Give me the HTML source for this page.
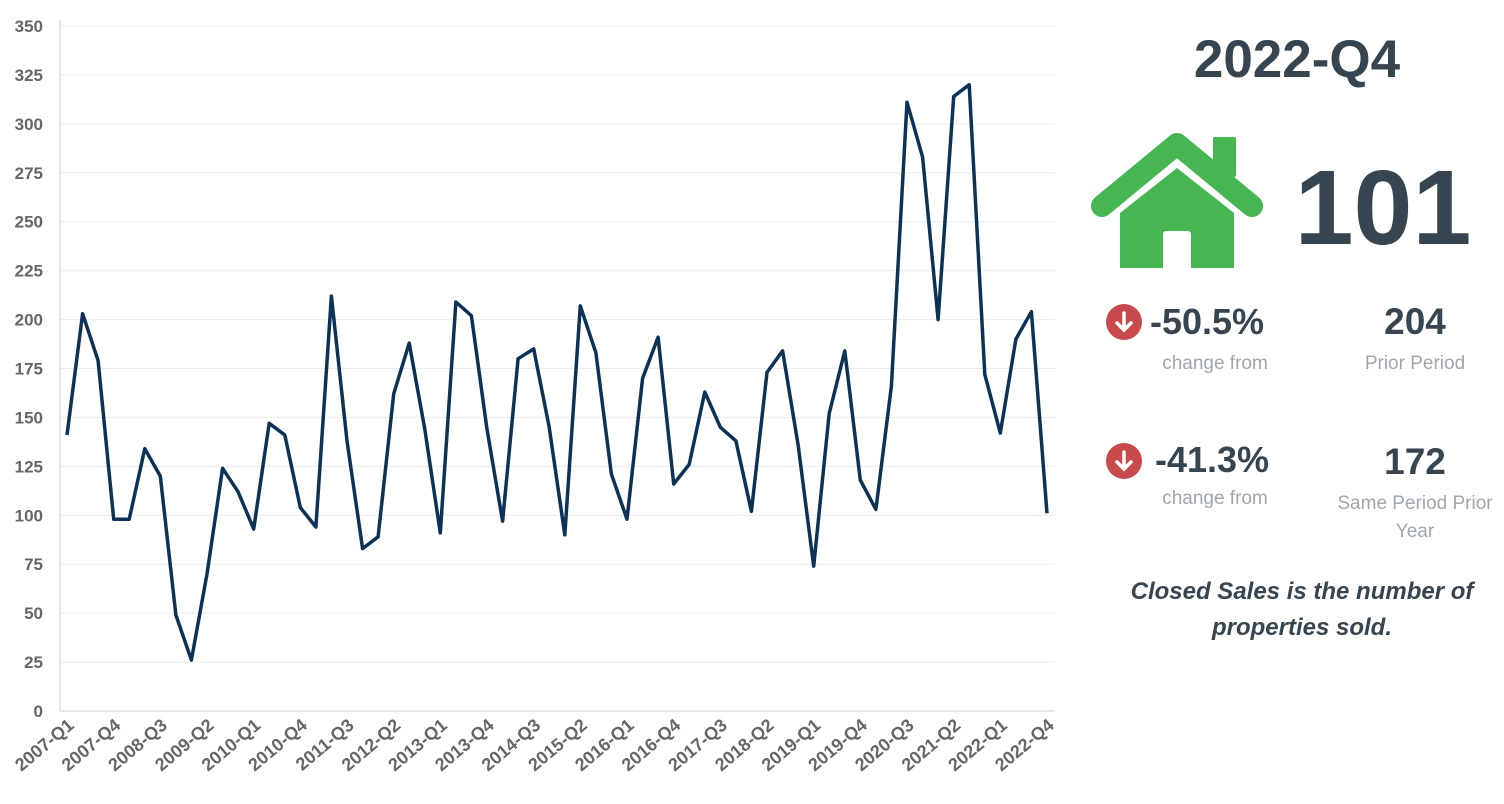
<!DOCTYPE html>
<html><head><meta charset="utf-8"><style>
body{margin:0;background:#fff;width:1504px;height:804px;overflow:hidden;font-family:"Liberation Sans",sans-serif;}
svg{position:absolute;left:0;top:0}
</style></head><body>
<svg width="1504" height="804">
<g id="grid"></g>
<g id="ylab"></g>
<g id="xlab"></g>
<line x1="60" y1="20" x2="60" y2="711" stroke="#ccc"/>
<path id="line" fill="none" stroke="#0d3257" stroke-width="3.5" stroke-linejoin="round"/>

<text x="1297" y="77" text-anchor="middle" font-size="53" font-weight="bold" fill="#36454f">2022-Q4</text>
<g>
<polyline points="1102,206 1177,144 1252,206" fill="none" stroke="#46b653" stroke-width="22" stroke-linecap="round" stroke-linejoin="round"/>
<rect x="1213" y="137" width="23" height="40" rx="2" fill="#46b653"/>
<polygon points="1120,213 1177,168 1234,213 1234,268 1120,268" fill="#46b653"/>
<rect x="1163" y="231" width="28" height="40" rx="3" fill="#fff"/>
</g>
<text x="1383" y="244" text-anchor="middle" font-size="106" font-weight="bold" fill="#36454f">101</text>

<g><circle cx="1124" cy="322" r="18" fill="#c94a4c"/><path d="M1124,313 v16 M1117,323 l7,7 l7,-7" stroke="#fff" stroke-width="3.5" fill="none" stroke-linecap="round"/></g>
<text x="1150" y="334" font-size="36" font-weight="bold" fill="#36454f">-50.5%</text>
<text x="1215" y="369" text-anchor="middle" font-size="19" fill="#a0a6ad">change from</text>
<text x="1415" y="334" text-anchor="middle" font-size="37" font-weight="bold" fill="#36454f">204</text>
<text x="1415" y="369" text-anchor="middle" font-size="19" fill="#a0a6ad">Prior Period</text>

<g><circle cx="1124" cy="461" r="18" fill="#c94a4c"/><path d="M1124,452 v16 M1117,462 l7,7 l7,-7" stroke="#fff" stroke-width="3.5" fill="none" stroke-linecap="round"/></g>
<text x="1155" y="472" font-size="36" font-weight="bold" fill="#36454f">-41.3%</text>
<text x="1215" y="504" text-anchor="middle" font-size="19" fill="#a0a6ad">change from</text>
<text x="1415" y="474" text-anchor="middle" font-size="37" font-weight="bold" fill="#36454f">172</text>
<text x="1415" y="509" text-anchor="middle" font-size="19" fill="#a0a6ad">Same Period Prior</text>
<text x="1415" y="537" text-anchor="middle" font-size="19" fill="#a0a6ad">Year</text>

<text x="1302" y="599" text-anchor="middle" font-size="24" font-weight="bold" font-style="italic" fill="#36454f">Closed Sales is the number of</text>
<text x="1302" y="635" text-anchor="middle" font-size="24" font-weight="bold" font-style="italic" fill="#36454f">properties sold.</text>
</svg>
<script>
const values=[141,203,179,98,98,134,120,49,26,70,124,112,93,147,141,104,94,212,138,83,89,162,188,144,91,209,202,144,97,180,185,145,90,207,183,121,98,170,191,116,126,163,145,138,102,173,184,136,74,152,184,118,103,166,311,283,200,314,320,172,142,190,204,101];
const yTicks=[0,25,50,75,100,125,150,175,200,225,250,275,300,325,350];
const startYear=2007;
const NS="http://www.w3.org/2000/svg";
const x0=67,x1=1047,yb=711,yt=26,ymax=350;
const xs=i=>x0+(x1-x0)*i/(values.length-1);
const ys=v=>yb-(yb-yt)*v/ymax;
const grid=document.getElementById('grid'),yl=document.getElementById('ylab'),xl=document.getElementById('xlab');
yTicks.forEach(t=>{
 const l=document.createElementNS(NS,'line');
 l.setAttribute('x1',60);l.setAttribute('x2',1055);l.setAttribute('y1',ys(t));l.setAttribute('y2',ys(t));
 l.setAttribute('stroke',t===0?'#ccc':'#ececec');
 
 
 grid.appendChild(l);
 const tx=document.createElementNS(NS,'text');
 tx.setAttribute('x',43);tx.setAttribute('y',ys(t)+6);tx.setAttribute('text-anchor','end');
 tx.setAttribute('font-size','17');tx.setAttribute('font-weight','bold');tx.setAttribute('fill','#666');
 tx.textContent=t;
 
 
 yl.appendChild(tx);
});
for(let i=0;i<values.length;i+=3){
 const label=(startYear+Math.floor(i/4))+'-Q'+(i%4+1);
 const tx=document.createElementNS(NS,'text');
 const x=xs(i)+8,y=727;
 tx.setAttribute('x',x);tx.setAttribute('y',y);tx.setAttribute('text-anchor','end');
 tx.setAttribute('transform','rotate(-40 '+x+' '+y+')');
 tx.setAttribute('font-size','18');tx.setAttribute('font-weight','bold');tx.setAttribute('fill','#666');
 tx.textContent=label;
 
 
 xl.appendChild(tx);
}
document.getElementById('line').setAttribute('d',values.map((v,i)=>(i?'L':'M')+xs(i).toFixed(1)+','+ys(v).toFixed(1)).join(''));
</script>
</body></html>
